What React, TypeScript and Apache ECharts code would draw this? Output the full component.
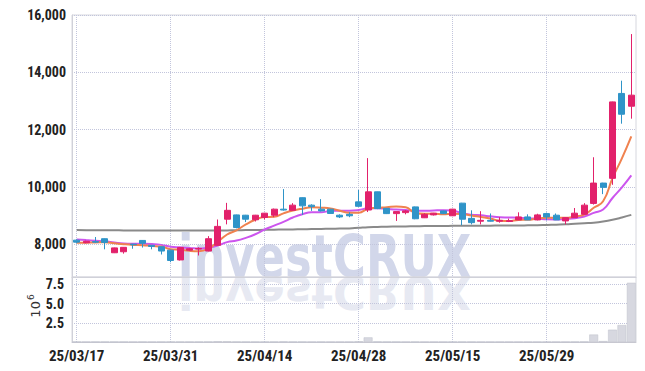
import React, { useEffect, useRef } from 'react';
import * as echarts from 'echarts';

const dates = [
  '25/03/17', '25/03/18', '25/03/19', '25/03/20', '25/03/21', '25/03/24', '25/03/25', '25/03/26', '25/03/27', '25/03/28',
  '25/03/31', '25/04/01', '25/04/02', '25/04/03', '25/04/04', '25/04/07', '25/04/08', '25/04/09', '25/04/10', '25/04/11',
  '25/04/14', '25/04/15', '25/04/16', '25/04/17', '25/04/18', '25/04/21', '25/04/22', '25/04/23', '25/04/24', '25/04/25',
  '25/04/28', '25/04/29', '25/04/30', '25/05/02', '25/05/07', '25/05/08', '25/05/09', '25/05/12', '25/05/13', '25/05/14',
  '25/05/15', '25/05/16', '25/05/19', '25/05/20', '25/05/21', '25/05/22', '25/05/23', '25/05/26', '25/05/27', '25/05/28',
  '25/05/29', '25/05/30', '25/06/02', '25/06/04', '25/06/05', '25/06/09', '25/06/10', '25/06/11', '25/06/12', '25/06/13',
];

const opens = [
  8150, 8060, 8100, 8200, 7710, 7745, 8010, 8140, 7970, 7920,
  7800, 7460, 7800, 7840, 7770, 7970, 8880, 9030, 9020, 8860,
  8940, 9020, 9230, 9190, 9630, 9370, 9230, 9230, 9020, 9050,
  9485, 9200, 9835, 9260, 9075, 9110, 9310, 8930, 9030, 9170,
  9000, 9440, 8910, 8810, 8840, 8810, 8800, 8855, 8960, 8855,
  9075, 9020, 8820, 8935, 9050, 9430, 10140, 10305, 13265, 12820,
];

const closes = [
  8080, 8110, 8080, 8070, 7880, 7900, 7990, 8040, 7930, 7770,
  7440, 7890, 7850, 7860, 8200, 8630, 9190, 8590, 8880, 9020,
  9090, 9230, 9200, 9370, 9345, 9320, 9170, 9080, 8960, 9000,
  9330, 9835, 9250, 9075, 9145, 9170, 8895, 9050, 9090, 9075,
  9230, 8880, 8760, 8840, 8810, 8840, 8830, 8960, 8855, 9030,
  8960, 8855, 8935, 9090, 9370, 10140, 9990, 12970, 12540, 13205,
];

const lows = [
  8040, 8040, 8050, 7830, 7700, 7680, 7850, 7890, 7830, 7650,
  7380, 7440, 7780, 7615, 7760, 7960, 8700, 8560, 8780, 8800,
  8870, 8950, 9180, 9180, 9030, 9170, 9150, 9070, 8920, 8950,
  9310, 9130, 9230, 9060, 8820, 9050, 8880, 8920, 9010, 9060,
  8990, 8670, 8700, 8700, 8800, 8760, 8780, 8850, 8850, 8840,
  8840, 8850, 8700, 8930, 9040, 9390, 9755, 10080, 12210, 12385,
];

const highs = [
  8180, 8130, 8260, 8210, 7890, 7910, 8020, 8150, 7980, 7930,
  7820, 7900, 7870, 7900, 8290, 8870, 9450, 9040, 9030, 9030,
  9100, 9250, 9930, 9440, 9640, 9400, 9580, 9240, 9050, 9120,
  9900, 11010, 9840, 9270, 9150, 9200, 9320, 9090, 9100, 9180,
  9240, 9450, 9190, 9160, 9080, 8950, 8900, 9120, 9050, 9070,
  9110, 9080, 8940, 9270, 9440, 11040, 10150, 12980, 13710, 15335,
];

// volume in millions of shares
const volumes = [
  0.02, 0.01, 0.02, 0.02, 0.03, 0.02, 0.01, 0.02, 0.01, 0.02,
  0.04, 0.03, 0.02, 0.02, 0.04, 0.09, 0.08, 0.04, 0.02, 0.02,
  0.02, 0.03, 0.06, 0.02, 0.03, 0.01, 0.02, 0.01, 0.01, 0.01,
  0.08, 0.6, 0.05, 0.02, 0.02, 0.01, 0.03, 0.01, 0.01, 0.01,
  0.02, 0.03, 0.02, 0.01, 0.01, 0.01, 0.01, 0.01, 0.01, 0.01,
  0.01, 0.01, 0.01, 0.02, 0.04, 0.97, 0.12, 1.6, 2.2, 7.7,
];

// closes of the 9 sessions before the window (for the moving averages)
const priorCloses = [8350, 8300, 8280, 8270, 8250, 8100, 8050, 8020, 8050];

// long-term moving average as drawn (grey line)
const longMA = [
  8500, 8498, 8496, 8494, 8492, 8490, 8489, 8488, 8487, 8486,
  8485, 8484, 8484, 8484, 8485, 8487, 8490, 8495, 8500, 8505,
  8510, 8515, 8520, 8525, 8530, 8536, 8542, 8548, 8554, 8560,
  8580, 8600, 8610, 8620, 8625, 8630, 8635, 8640, 8642, 8645,
  8648, 8650, 8652, 8654, 8656, 8658, 8659, 8660, 8665, 8670,
  8680, 8690, 8700, 8720, 8740, 8760, 8800, 8860, 8940, 9030,
];

const UP = '#e2216b';
const DOWN = '#2f94c8';
const FONT = '"Liberation Sans Narrow", "Roboto Condensed", "DejaVu Sans Condensed", "Liberation Sans", sans-serif';
const WM_SIZE = 59;
const WM_FONT = `bold ${WM_SIZE}px "DejaVu Sans", "Liberation Sans", sans-serif`;
const WM_BASE = 0.346 * WM_SIZE; // alphabetic baseline below the 'central' line
const GRID_LINE = { color: '#c2c5dc', type: 'dotted' as const, width: 1 };

function movingAverage(n: number): number[] {
  const all = priorCloses.concat(closes);
  const off = priorCloses.length;
  return closes.map((_, i) => {
    let s = 0;
    for (let k = 0; k < n; k++) s += all[off + i - k];
    return Math.round(s / n);
  });
}

export default function App() {
  const ref = useRef<HTMLDivElement>(null);

  useEffect(() => {
    if (!ref.current) return;
    const chart = echarts.init(ref.current, undefined, { renderer: 'svg' });
    const candles = opens.map((o, i) => [o, closes[i], lows[i], highs[i]]);
    const ma5 = movingAverage(5);
    const ma10 = movingAverage(10);

    const splitLineX = {
      show: true,
      interval: 9,
      alignWithLabel: true,
      lineStyle: GRID_LINE,
    };

    chart.setOption({
      animation: false,
      backgroundColor: '#ffffff',
      grid: [
        { left: 72, right: 9, top: 15, height: 262, show: true, borderColor: '#d6d7de', borderWidth: 1 },
        { left: 72, right: 9, top: 277, height: 65, show: true, borderColor: '#d6d7de', borderWidth: 1 },
      ],
      xAxis: [
        {
          type: 'category',
          gridIndex: 0,
          data: dates,
          boundaryGap: true,
          axisLine: { show: true, lineStyle: { color: '#d0d1d9' } },
          axisTick: { show: false },
          axisLabel: { show: false, interval: 9 },
          splitLine: splitLineX,
        },
        {
          type: 'category',
          gridIndex: 1,
          data: dates,
          boundaryGap: true,
          axisLine: { show: true, lineStyle: { color: '#c8c9d2' } },
          axisTick: { show: false },
          axisLabel: {
            show: true,
            interval: 9,
            color: '#222',
            fontFamily: FONT,
            fontWeight: 'bold',
            fontSize: 15,
            margin: 6,
          },
          splitLine: splitLineX,
        },
      ],
      yAxis: [
        {
          type: 'value',
          gridIndex: 0,
          min: 6865,
          max: 16000,
          splitNumber: 5,
          axisLine: { show: true, lineStyle: { color: '#d0d1d9' } },
          axisTick: { show: false },
          axisLabel: {
            color: '#222',
            fontFamily: FONT,
            fontWeight: 'bold',
            fontSize: 14,
            margin: 6,
            showMinLabel: false,
            formatter: (v: number) => v.toLocaleString('en-US'),
          },
          splitLine: { show: true, lineStyle: GRID_LINE },
        },
        {
          type: 'value',
          gridIndex: 1,
          min: 0,
          max: 8.45,
          interval: 2.5,
          axisLine: { show: true, lineStyle: { color: '#d0d1d9' } },
          axisTick: { show: false },
          axisLabel: {
            color: '#222',
            fontFamily: FONT,
            fontWeight: 'bold',
            fontSize: 14,
            margin: 8,
            showMinLabel: false,
            showMaxLabel: false,
            formatter: (v: number) => v.toFixed(1),
          },
          splitLine: { show: true, lineStyle: GRID_LINE },
        },
      ],
      graphic: [
        {
          type: 'text',
          x: 178,
          y: 277 - WM_BASE,
          z: -10,
          scaleX: 0.76,
          style: {
            text: 'investCRUX',
            font: WM_FONT,
            fill: '#d2d7ea',
            align: 'left',
            verticalAlign: 'middle',
          },
        },
        {
          type: 'text',
          x: 178,
          y: 277 - WM_BASE,
          z: -10,
          scaleX: 0.76,
          scaleY: -0.75,
          originX: 0,
          originY: WM_BASE,
          style: {
            text: 'investCRUX',
            font: WM_FONT,
            fill: '#e7e9f2',
            align: 'left',
            verticalAlign: 'middle',
          },
        },
        {
          type: 'text',
          x: 34,
          y: 306,
          rotation: Math.PI / 2,
          style: {
            text: '{a|10}{b|6}',
            rich: {
              a: { fontSize: 13, fontFamily: 'DejaVu Sans, sans-serif', fill: '#333', verticalAlign: 'bottom' },
              b: { fontSize: 9, fontFamily: 'DejaVu Sans, sans-serif', fill: '#333', padding: [0, 0, 7, 1] },
            },
            align: 'center',
            verticalAlign: 'middle',
          },
        },
      ],
      series: [
        {
          type: 'candlestick',
          xAxisIndex: 0,
          yAxisIndex: 0,
          data: candles,
          barWidth: '70%',
          itemStyle: {
            color: UP,
            color0: DOWN,
            borderColor: UP,
            borderColor0: DOWN,
            borderWidth: 1,
          },
          z: 3,
        },
        {
          type: 'line',
          xAxisIndex: 0,
          yAxisIndex: 0,
          data: longMA,
          smooth: true,
          showSymbol: false,
          lineStyle: { color: '#8a8a8a', width: 2 },
          z: 2,
        },
        {
          type: 'line',
          xAxisIndex: 0,
          yAxisIndex: 0,
          data: ma10,
          smooth: true,
          showSymbol: false,
          lineStyle: { color: '#cc55ee', width: 2 },
          z: 2,
        },
        {
          type: 'line',
          xAxisIndex: 0,
          yAxisIndex: 0,
          data: ma5,
          smooth: true,
          showSymbol: false,
          lineStyle: { color: '#f0824f', width: 2 },
          z: 2,
        },
        {
          type: 'bar',
          xAxisIndex: 1,
          yAxisIndex: 1,
          data: volumes,
          barCategoryGap: '6%',
          itemStyle: { color: '#d7d8e0', borderColor: '#bfc0ca', borderWidth: 0.5 },
        },
      ],
    });

    return () => chart.dispose();
  }, []);

  return (
    <div
      ref={ref}
      style={{ position: 'fixed', left: 0, top: 0, width: 645, height: 371, background: '#fff' }}
    />
  );
}
